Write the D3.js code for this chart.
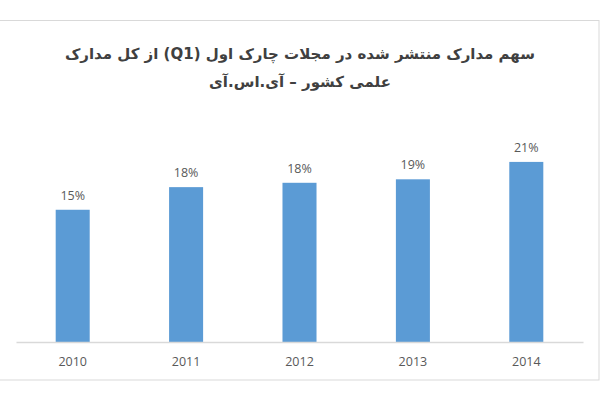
<!DOCTYPE html>
<html><head><meta charset="utf-8">
<script src="https://cdn.jsdelivr.net/npm/d3@7"></script>
<style>html,body{margin:0;padding:0;background:#fff;}svg{display:block;}</style>
</head><body>
<svg id="c" width="600" height="400"></svg>
<script>
const titleLines = ["سهم مدارک منتشر شده در مجلات چارک اول (Q1) از کل مدارک", "علمی کشور – آی.اس.آی"];
const years = ["2010", "2011", "2012", "2013", "2014"];
const shares = [0.152, 0.178, 0.183, 0.187, 0.207];

const svg = d3.select("#c");
// frame
svg.append("rect").attr("x", -2).attr("y", 20.5).attr("width", 601).attr("height", 359.5)
  .attr("fill", "#fff").attr("stroke", "#d9d9d9").attr("stroke-width", 1);

const x = d3.scaleBand().domain(years).range([16, 583]).paddingInner(0.7).paddingOuter(0.35);
const y = d3.scaleLinear().domain([0, 0.25]).range([342, 124.5]);

svg.append("g").selectAll("rect").data(years).join("rect")
  .attr("x", d => x(d)).attr("width", x.bandwidth())
  .attr("y", (d, i) => y(shares[i])).attr("height", (d, i) => y(0) - y(shares[i]))
  .attr("fill", "#5b9bd5");

const axis = svg.append("g").attr("transform", "translate(0,342)")
  .call(d3.axisBottom(x).tickSize(0).tickPadding(15));
axis.select(".domain").attr("stroke", "#d9d9d9").attr("stroke-width", 1.5);
axis.selectAll("text").attr("fill", "#595959").attr("font-size", 12.5).attr("font-family", "Open Sans, sans-serif");

svg.append("g").selectAll("text").data(years).join("text")
  .attr("x", d => x(d) + x.bandwidth() / 2)
  .attr("y", (d, i) => y(shares[i]) - 10)
  .attr("text-anchor", "middle").attr("fill", "#595959")
  .attr("font-size", 12.5).attr("font-family", "Open Sans, sans-serif")
  .text((d, i) => d3.format(".0%")(shares[i]));

svg.append("g").selectAll("text").data(titleLines).join("text")
  .attr("x", 300).attr("y", (d, i) => 59 + i * 28)
  .attr("text-anchor", "middle").attr("direction", "rtl")
  .attr("fill", "#404040").attr("font-weight", "bold")
  .attr("font-size", 15).attr("font-family", "DejaVu Sans, sans-serif")
  .text(d => d);
</script>
</body></html>
